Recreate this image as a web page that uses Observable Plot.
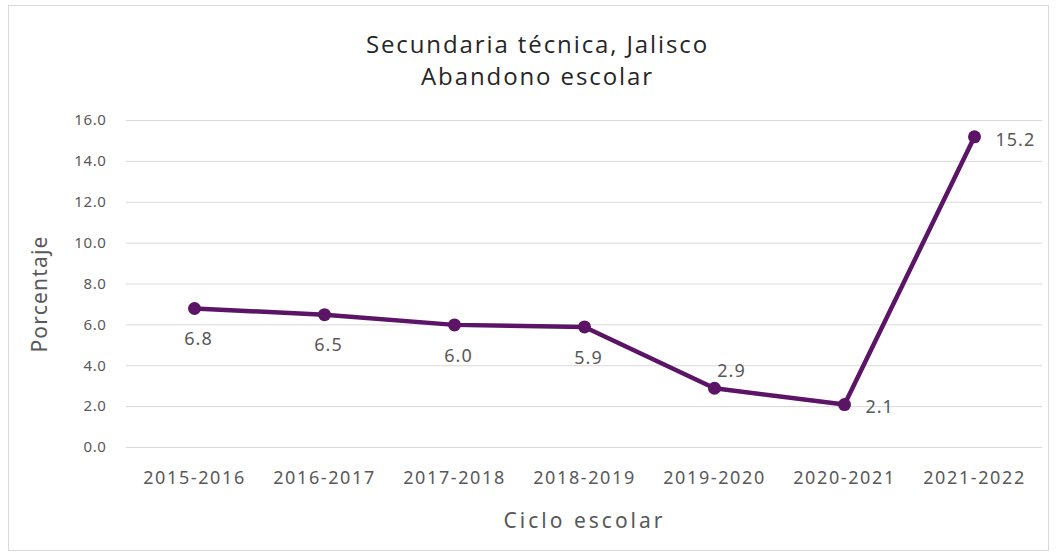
<!DOCTYPE html>
<html>
<head>
<meta charset="utf-8">
<script src="https://cdn.jsdelivr.net/npm/d3@7"></script>
<script src="https://cdn.jsdelivr.net/npm/@observablehq/plot@0.6"></script>
<style>
  html, body { margin: 0; padding: 0; background: #fff; }
  #frame {
    position: absolute; left: 8px; top: 5px; width: 1041px; height: 546px;
    border: 1px solid #d9d9d9; box-sizing: border-box; background: #fff;
  }
  #title {
    position: absolute; left: 0; top: 22px; width: 100%; padding-left: 18px; box-sizing: border-box;
    text-align: center; font-family: "Open Sans", sans-serif; font-size: 24px; line-height: 32px; color: #262626;
    letter-spacing: 1.9px;
  }
  #chart { position: absolute; left: 0; top: 89px; }
</style>
</head>
<body>
<div id="frame">
  <div id="title">Secundaria técnica, Jalisco<br>Abandono escolar</div>
  <div id="chart"></div>
</div>
<script>
const ciclos = ["2015-2016", "2016-2017", "2017-2018", "2018-2019", "2019-2020", "2020-2021", "2021-2022"];
const abandono = [6.8, 6.5, 6.0, 5.9, 2.9, 2.1, 15.2];
const yTicks = [0, 2, 4, 6, 8, 10, 12, 14, 16];

const data = ciclos.map((c, i) => ({ciclo: c, valor: abandono[i]}));
const color = "#5b1466";
const txt = "#595959";
const below = new Set(ciclos.slice(0, 4));

const chart = Plot.plot({
  width: 1039,
  height: 450,
  marginLeft: 117,
  marginRight: 6,
  marginTop: 25,
  marginBottom: 98,
  style: {fontFamily: "'Noto Sans', sans-serif", fontSize: "14px", color: txt, background: "transparent"},
  x: {type: "point", domain: ciclos, padding: 0.5},
  y: {domain: [0, 16]},
  marks: [
    Plot.gridY(yTicks, {stroke: "#d9d9d9", strokeOpacity: 1, strokeWidth: 1}),
    Plot.axisY(yTicks, {
      tickSize: 0, tickPadding: 20, tickFormat: d => d.toFixed(1), fontSize: 15, label: null
    }),
    Plot.text(["Porcentaje"], {frameAnchor: "left", textAnchor: "middle", rotate: -90, dx: -86, dy: 10, fontSize: 21, fill: txt}),
    Plot.axisX({
      tickSize: 0, tickPadding: 24, fontSize: 18,
      label: "Ciclo escolar", labelAnchor: "center", labelOffset: 80, labelArrow: "none"
    }),
    Plot.lineY(data, {x: "ciclo", y: "valor", stroke: color, strokeWidth: 4.5}),
    Plot.dot(data, {x: "ciclo", y: "valor", fill: color, r: 6.5}),
    Plot.text(data.filter(d => below.has(d.ciclo)), {x: "ciclo", y: "valor", text: d => d.valor.toFixed(1), dy: 31, dx: 4, fontSize: 18, fill: txt}),
    Plot.text(data.filter(d => d.ciclo === "2019-2020"), {x: "ciclo", y: "valor", text: d => d.valor.toFixed(1), dy: -17, dx: 17, fontSize: 18, fill: txt}),
    Plot.text(data.filter(d => d.ciclo === "2020-2021" || d.ciclo === "2021-2022"), {x: "ciclo", y: "valor", text: d => d.valor.toFixed(1), dx: 21, dy: 3, textAnchor: "start", fontSize: 18, fill: txt})
  ]
});
document.getElementById("chart").appendChild(chart);
// letter spacing to mimic the wider original typeface
chart.querySelectorAll("[aria-label='y-axis tick label'] text").forEach(t => t.style.letterSpacing = "0.6px");
chart.querySelectorAll("[aria-label='x-axis tick label'] text").forEach(t => t.style.letterSpacing = "1.6px");
chart.querySelectorAll("[aria-label='text'] text").forEach(t => {
  t.style.letterSpacing = t.textContent === "Porcentaje" ? "1.2px" : "1px";
});
chart.querySelectorAll("[aria-label='x-axis label'] text").forEach(t => {
  t.setAttribute("font-size", "21");
  t.style.letterSpacing = "3px";
});
</script>
</body>
</html>
